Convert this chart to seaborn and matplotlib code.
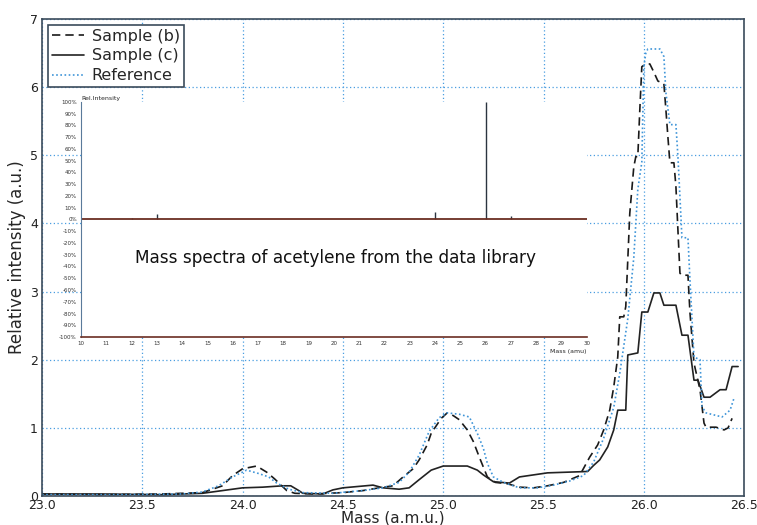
import matplotlib
matplotlib.use("Agg")
import matplotlib.pyplot as plt
import matplotlib.ticker as mticker
import numpy as np
import pandas as pd
import seaborn as sns

# ------------------------------------------------------------------
# Data
# ------------------------------------------------------------------
mass_b = [23.0, 23.3, 23.6, 23.8, 23.9, 23.95, 24.0, 24.07, 24.12, 24.16,
          24.22, 24.26, 24.35, 24.5, 24.6, 24.68, 24.75, 24.8, 24.85, 24.88,
          24.92, 24.94, 24.99, 25.02, 25.05, 25.08, 25.12, 25.15, 25.18, 25.22,
          25.26, 25.32, 25.38, 25.45, 25.52, 25.6, 25.68, 25.73, 25.77, 25.8,
          25.83, 25.85, 25.87, 25.88, 25.9, 25.91, 25.93, 25.95, 25.96, 25.97,
          25.98, 25.99, 26.01, 26.03, 26.05, 26.07, 26.1, 26.11, 26.12, 26.13,
          26.15, 26.16, 26.17, 26.18, 26.19, 26.22, 26.23, 26.25, 26.28, 26.3,
          26.31, 26.36, 26.4, 26.42, 26.44]
int_b = [0.03, 0.02, 0.03, 0.05, 0.15, 0.3, 0.4, 0.44, 0.35, 0.25,
         0.08, 0.04, 0.03, 0.05, 0.08, 0.12, 0.15, 0.28, 0.4, 0.53,
         0.75, 0.92, 1.14, 1.22, 1.18, 1.12, 0.97, 0.8, 0.57, 0.28,
         0.2, 0.18, 0.13, 0.12, 0.15, 0.2, 0.3, 0.57, 0.75, 0.97,
         1.26, 1.6, 2.04, 2.63, 2.63, 2.78, 4.15, 4.83, 4.98, 4.98,
         5.67, 6.3, 6.34, 6.34, 6.22, 6.09, 6.05, 5.67, 5.27, 4.89,
         4.89, 4.54, 3.9, 3.27, 3.24, 3.24, 2.69, 1.95, 1.56, 1.07,
         1.01, 1.01, 0.97, 1.0, 1.14]

mass_c = [23.0, 23.3, 23.6, 23.8, 23.9, 24.0, 24.1, 24.2, 24.24, 24.28,
          24.3, 24.4, 24.45, 24.5, 24.65, 24.7, 24.78, 24.83, 24.88, 24.94,
          25.0, 25.12, 25.17, 25.2, 25.25, 25.33, 25.38, 25.52, 25.72, 25.75,
          25.78, 25.82, 25.85, 25.87, 25.91, 25.92, 25.97, 25.99, 26.02, 26.05,
          26.08, 26.1, 26.16, 26.19, 26.22, 26.25, 26.27, 26.3, 26.33, 26.38,
          26.41, 26.44, 26.47]
int_c = [0.03, 0.03, 0.02, 0.04, 0.08, 0.12, 0.13, 0.15, 0.15, 0.08,
         0.04, 0.03, 0.09, 0.12, 0.16, 0.12, 0.1, 0.12, 0.24, 0.38,
         0.44, 0.44, 0.38, 0.31, 0.21, 0.19, 0.28, 0.34, 0.36, 0.45,
         0.53, 0.72, 0.97, 1.26, 1.26, 2.07, 2.1, 2.7, 2.7, 2.98,
         2.98, 2.8, 2.8, 2.36, 2.36, 1.7, 1.7, 1.45, 1.45, 1.56,
         1.56, 1.9, 1.9]

mass_ref = [23.0, 23.4, 23.7, 23.8, 23.88, 23.95, 24.02, 24.08, 24.13, 24.17,
            24.23, 24.3, 24.45, 24.6, 24.7, 24.78, 24.83, 24.88, 24.93, 24.98,
            25.02, 25.08, 25.13, 25.17, 25.2, 25.22, 25.25, 25.3, 25.38, 25.47,
            25.55, 25.63, 25.7, 25.75, 25.8, 25.85, 25.88, 25.92, 25.95, 25.97,
            25.99, 26.0, 26.01, 26.02, 26.08, 26.1, 26.11, 26.13, 26.16, 26.17,
            26.18, 26.19, 26.22, 26.23, 26.25, 26.28, 26.29, 26.31, 26.39, 26.43,
            26.45]
int_ref = [0.02, 0.02, 0.03, 0.06, 0.15, 0.28, 0.38, 0.33, 0.28, 0.19,
           0.1, 0.05, 0.04, 0.08, 0.12, 0.2, 0.35, 0.6, 0.95, 1.15,
           1.22, 1.2, 1.16, 0.92, 0.7, 0.48, 0.28, 0.2, 0.12, 0.12,
           0.16, 0.22, 0.3, 0.5, 0.85, 1.3, 1.8, 2.6, 3.5, 4.5,
           4.9, 6.3, 6.5, 6.56, 6.56, 6.45, 5.92, 5.45, 5.45, 4.98,
           4.39, 3.79, 3.79, 3.17, 2.04, 2.0, 1.31, 1.22, 1.16, 1.26,
           1.44]

# library spectrum of acetylene (inset)
lib_mass = [12, 13, 24, 26, 27]
lib_rel = [1, 5, 6, 100, 3]

x_ticks = [23.0, 23.5, 24.0, 24.5, 25.0, 25.5, 26.0, 26.5]
y_ticks = [0, 1, 2, 3, 4, 5, 6, 7]
inset_x_ticks = list(range(10, 31))
inset_y_ticks = list(range(-100, 101, 10))

# ------------------------------------------------------------------
# Main plot
# ------------------------------------------------------------------
sns.set_style("white")
plt.rcParams['font.family'] = ['DejaVu Sans']

fig = plt.figure(figsize=(7.57, 5.25), dpi=100)
ax = fig.add_axes([0.0555, 0.0552, 0.9275, 0.9086])

df = pd.concat([
    pd.DataFrame({'mass': mass_b, 'intensity': int_b, 'series': 'Sample (b)'}),
    pd.DataFrame({'mass': mass_c, 'intensity': int_c, 'series': 'Sample (c)'}),
    pd.DataFrame({'mass': mass_ref, 'intensity': int_ref, 'series': 'Reference'}),
])

styles = {
    'Sample (b)': dict(color='#1a1a1a', linestyle=(0, (5, 3))),
    'Sample (c)': dict(color='#222222', linestyle='-'),
    'Reference': dict(color='#3f95d8', linestyle=(0, (1, 1.5))),
}
for name, sub in df.groupby('series', sort=False):
    sns.lineplot(data=sub, x='mass', y='intensity', ax=ax, label=name,
                 lw=1.2, sort=False, estimator=None, **styles[name])

ax.set_xlim(23.0, 26.5)
ax.set_ylim(0, 7)
ax.set_xticks(x_ticks)
ax.set_yticks(y_ticks)
ax.xaxis.set_major_formatter(mticker.FormatStrFormatter('%.1f'))
ax.grid(True, color='#4a9ee0', linestyle=(0, (1, 2)), linewidth=0.9)
ax.tick_params(labelsize=9, length=0, colors='#222222')
ax.tick_params(axis='x', pad=2)
ax.tick_params(axis='y', pad=3)
for sp in ax.spines.values():
    sp.set_color('#3b4b5b')
    sp.set_linewidth(1.2)

ax.set_xlabel('Mass (a.m.u.)', fontsize=11, labelpad=-1)
ax.set_ylabel('Relative intensity (a.u.)', fontsize=12, labelpad=3)

leg = ax.legend(loc='upper left', fontsize=11.5, frameon=True, fancybox=False,
                framealpha=1, edgecolor='#3b4b5b', borderpad=0.25,
                labelspacing=0.3, handlelength=2.0, handletextpad=0.5,
                borderaxespad=0.35)
leg.get_frame().set_linewidth(1.2)

# ------------------------------------------------------------------
# Inset: library mass spectrum
# ------------------------------------------------------------------
ins = fig.add_axes([0.107, 0.358, 0.668, 0.448])
ins.set_facecolor('white')
ins.vlines(lib_mass, 0, lib_rel, color='#2b3440', lw=1.0)
ins.axhline(0, color='#6b2e22', lw=1.3)
ins.set_xlim(10, 30)
ins.set_ylim(-100, 100)
ins.set_xticks(inset_x_ticks)
ins.set_yticks(inset_y_ticks)
ins.yaxis.set_major_formatter(mticker.FuncFormatter(lambda v, p: f'{v:.0f}%'))
ins.tick_params(labelsize=4, length=2, pad=1, colors='#333333')
for side in ['top', 'right']:
    ins.spines[side].set_visible(False)
ins.spines['left'].set_color('#5a7a9a')
ins.spines['bottom'].set_color('#6b2e22')
ins.spines['bottom'].set_linewidth(1.2)
ins.text(0.0, 1.005, 'Rel.Intensity', transform=ins.transAxes, fontsize=4.5,
         ha='left', va='bottom')
ins.text(1.0, -0.05, 'Mass (amu)', transform=ins.transAxes, fontsize=4.5,
         ha='right', va='top')
ins.text(0.503, 0.335, 'Mass spectra of acetylene from the data library',
         transform=ins.transAxes, fontsize=12.2, ha='center', va='center',
         color='#111111')

fig.savefig('out.png', dpi=100)
